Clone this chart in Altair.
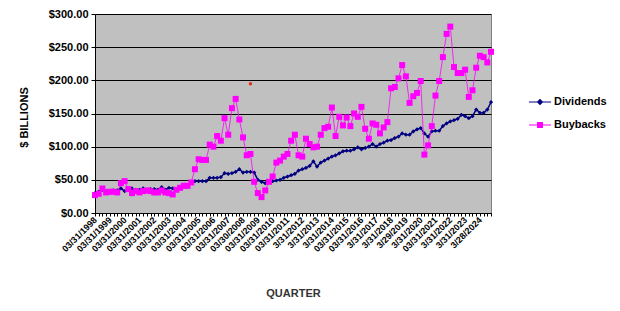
import altair as alt
import pandas as pd

# Quarter index 0 = Q1 1998 ... 107 = Q4 2024
dividends = [30, 32, 35, 33, 33, 34, 34, 37, 33, 35, 37, 35, 35, 37, 35, 36, 36, 35, 39, 35,
             38, 37, 36, 39, 42, 40, 46, 48, 48, 48, 48, 53, 53, 53, 54, 60, 59, 60, 62, 66,
             61, 62, 62, 61, 50, 47, 45, 47, 48, 49, 50, 53, 55, 57, 59, 64, 66, 68, 71, 78,
             70, 76, 79, 82, 85, 87, 90, 93, 94, 94, 96, 99, 96, 98, 100, 104, 100, 104, 106, 109,
             110, 113, 115, 120, 118, 118, 123, 126, 128, 120, 115, 123, 124, 124, 131, 135, 138, 140, 142, 148,
             146, 143, 146, 156, 151, 151, 156, 167]
buybacks = [27, 29, 37, 31, 32, 32, 31, 45, 48, 36, 30, 33, 31, 33, 34, 33, 31, 31, 34, 31,
            30, 28, 35, 38, 41, 41, 46, 66, 81, 80, 80, 103, 100, 116, 109, 143, 118, 158, 172, 141,
            114, 87, 89, 47, 30, 24, 34, 47, 55, 76, 79, 85, 89, 109, 118, 87, 85, 112, 104, 99,
            100, 118, 128, 130, 159, 116, 145, 132, 144, 131, 150, 145, 160, 127, 112, 135, 133, 120, 129, 137,
            188, 190, 203, 223, 206, 166, 176, 181, 199, 88, 102, 131, 177, 199, 235, 270, 281, 220, 211, 211,
            216, 175, 185, 219, 237, 235, 227, 243]
year_labels = ["03/31/1998", "03/31/1999", "03/31/2000", "03/31/2001", "03/31/2002", "03/31/2003",
               "03/31/2004", "03/31/2005", "03/31/2006", "03/31/2007", "03/30/2008", "03/31/2009",
               "03/31/2010", "03/31/2011", "3/31/2012", "3/31/2013", "3/31/2014", "03/31/2015",
               "03/31/2016", "3/31/2017", "3/31/2018", "3/29/2019", "3/31/2020", "03/31/2021",
               "3/31/2022", "3/31/2023", "3/28/2024"]
stray_q = [42]
stray_v = [195]
series_names = ["Dividends", "Buybacks"]
series_colors = ["#000080", "#FF00FF"]

quarters = list(range(len(dividends)))
div_df = pd.DataFrame({"q": quarters, "value": dividends})
buy_df = pd.DataFrame({"q": quarters, "value": buybacks})
stray_df = pd.DataFrame({"q": stray_q, "value": stray_v})
legend_df = pd.DataFrame({"series": series_names, "q": [0, 0], "value": [-1, -1]})

FONT = "Liberation Sans"
label_arr = "[" + ",".join("'%s'" % s for s in year_labels) + "]"
label_expr = "datum.value %% 4 == 0 ? %s[datum.value / 4] : ''" % label_arr

x_axis = alt.Axis(values=quarters, labelExpr=label_expr, labelAngle=-45,
                  labelAlign="right", labelBaseline="middle", labelOverlap=False,
                  labelFlush=False, labelBound=False, labelPadding=2,
                  labelFont=FONT, labelFontSize=9, labelFontWeight="bold",
                  labelColor="#000000", tickSize=3, tickColor="#000000",
                  domainColor="#000000", grid=False,
                  title="QUARTER", titleFont=FONT, titleFontSize=11,
                  titleFontWeight="bold", titleColor="#333333",
                  titleX=198, titleY=80, titleBaseline="middle")
x_scale = alt.Scale(domain=[0, len(quarters) - 1], nice=False, zero=False)
y_axis = alt.Axis(values=[0, 50, 100, 150, 200, 250, 300], format="$,.2f",
                  labelFont=FONT, labelFontSize=11, labelFontWeight="bold",
                  labelColor="#000000", labelPadding=3, tickSize=4,
                  tickColor="#000000", domainColor="#000000",
                  grid=True, gridColor="#000000", gridWidth=1,
                  title="$ BILLIONS", titleFont=FONT, titleFontSize=11,
                  titleFontWeight="bold", titleColor="#000000",
                  titleX=-71, titleY=103, titleAngle=-90,
                  titleBaseline="middle", titleAlign="center")
y_scale = alt.Scale(domain=[0, 300], nice=False)


def xe():
    return alt.X("q:Q", scale=x_scale, axis=x_axis)


def ye():
    return alt.Y("value:Q", scale=y_scale, axis=y_axis)


div_line = alt.Chart(div_df).mark_line(color=series_colors[0], strokeWidth=1.5).encode(x=xe(), y=ye())
div_pts = alt.Chart(div_df).mark_point(shape="diamond", filled=True, size=18, opacity=1,
                                       color=series_colors[0]).encode(x=xe(), y=ye())
buy_line = alt.Chart(buy_df).mark_line(color=series_colors[1], strokeWidth=1, opacity=0.8).encode(x=xe(), y=ye())
buy_pts = alt.Chart(buy_df).mark_square(size=36, opacity=1, color=series_colors[1]).encode(x=xe(), y=ye())
stray = alt.Chart(stray_df).mark_circle(size=12, opacity=1, color="#E0301E").encode(x=xe(), y=ye())

div_path = "M-1,-0.05L1,-0.05L1,0.05L-1,0.05Z M0,-0.3L0.3,0L0,0.3L-0.3,0Z"
buy_path = "M-1,-0.04L1,-0.04L1,0.04L-1,0.04Z M-0.27,-0.27L0.27,-0.27L0.27,0.27L-0.27,0.27Z"

legend_layer = alt.Chart(legend_df).mark_point(filled=True, opacity=1).encode(
    x=xe(), y=ye(),
    color=alt.Color("series:N", scale=alt.Scale(domain=series_names, range=series_colors),
                    legend=alt.Legend(title=None, orient="none", legendX=434, legendY=77,
                                      padding=0, rowPadding=7, symbolSize=484,
                                      symbolStrokeWidth=0, labelOffset=3,
                                      labelFont=FONT, labelFontSize=11,
                                      labelFontWeight="bold", labelColor="#000000")),
    shape=alt.Shape("series:N", scale=alt.Scale(domain=series_names, range=[div_path, buy_path]),
                    legend=alt.Legend(title=None, orient="none", legendX=434, legendY=77)),
).transform_filter("datum.value >= 0")

chart = alt.layer(div_line, div_pts, buy_line, buy_pts, stray, legend_layer).properties(
    width=396, height=199,
    autosize=alt.AutoSizeParams(type="none"),
    padding={"left": 95, "top": 14, "right": 129, "bottom": 98},
    background="#FFFFFF",
).configure_view(fill="#C0C0C0", stroke="#808080", strokeWidth=1
).configure_axis(labelOverlap=False)

chart.save("out.html", embed_options={"renderer": "svg", "actions": False})
